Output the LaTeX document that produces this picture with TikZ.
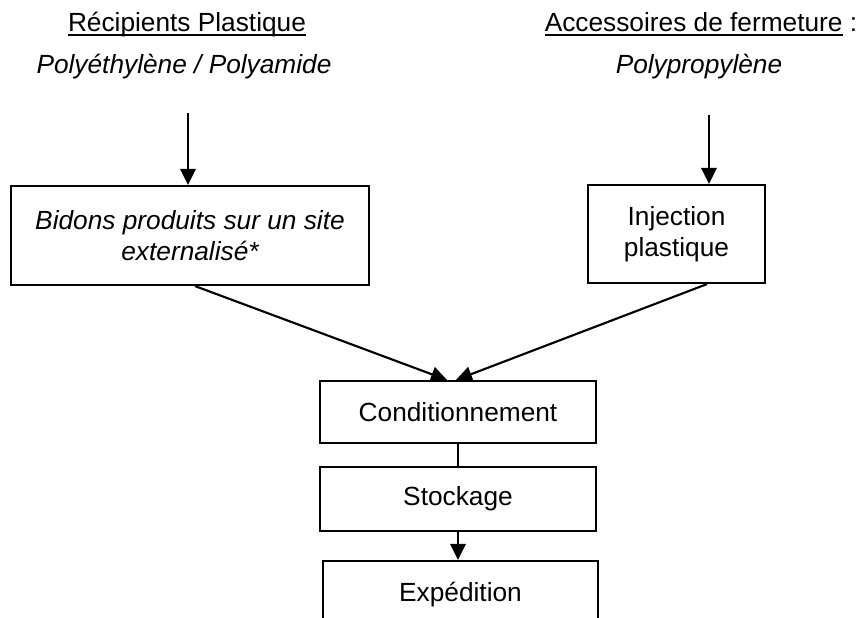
\documentclass[tikz,border=0pt]{standalone}
\usepackage{fontspec}
\setmainfont{Liberation Sans}
\usetikzlibrary{arrows.meta}
\newcommand{\souligne}[1]{\setbox0\hbox{#1}\rlap{\vrule height -1.6pt depth 2.9pt width \wd0}\box0}
\tikzset{every picture/.style={line width=1.6pt}}
\tikzset{
  etape/.style={draw, rectangle, inner sep=0pt, align=center, font=\fontsize{19.7}{23}\selectfont},
  titre/.style={inner sep=0pt, anchor=base, font=\fontsize{19.7}{23}\selectfont},
  fleche/.style={-{Triangle[length=12pt,width=11.5pt]}},
}

\begin{document}
\begin{tikzpicture}[x=0.75pt,y=0.75pt,yscale=-1]
\useasboundingbox (0,0) rectangle (866,617);
\node[titre] (rec) at (187,32) {\souligne{Récipients Plastique}};
\node[titre] (poly) at (184,74) {\itshape Polyéthylène / Polyamide};
\node[titre] (acc) at (701,32) {\souligne{Accessoires de fermeture}\ :};
\node[titre] (pp) at (699,74) {\itshape Polypropylène};
\node[etape, minimum width=268.5pt, minimum height=74.25pt, font=\fontsize{19.7}{23}\selectfont\itshape] (bidons) at (190,235.5) {Bidons produits sur un site\\externalisé*};
\node[etape, minimum width=132.75pt, minimum height=73.5pt] (inject) at (676.5,234) {Injection\\plastique};
\node[etape, minimum width=207pt, minimum height=46.5pt] (cond) at (458,412) {Conditionnement};
\node[etape, minimum width=207pt, minimum height=48pt] (stock) at (458,499) {Stockage};
\node[etape, minimum width=206.25pt, minimum height=51pt] (exped) at (460.5,595) {Expédition};
\coordinate (d1) at (188,113);
\coordinate (d2) at (709,115);
\draw[fleche] (d1) -- (bidons.north -| d1);
\draw[fleche] (d2) -- (inject.north -| d2);
\draw[fleche] ([xshift=3.75pt]bidons.south) -- ([xshift=-8.25pt]cond.north);
\draw[fleche] ([xshift=22.9pt]inject.south) -- ([xshift=-1.5pt]cond.north);
\draw (cond) -- (stock);
\draw[fleche] (stock.south) -- (stock.south |- exped.north);
\end{tikzpicture}
\end{document}
